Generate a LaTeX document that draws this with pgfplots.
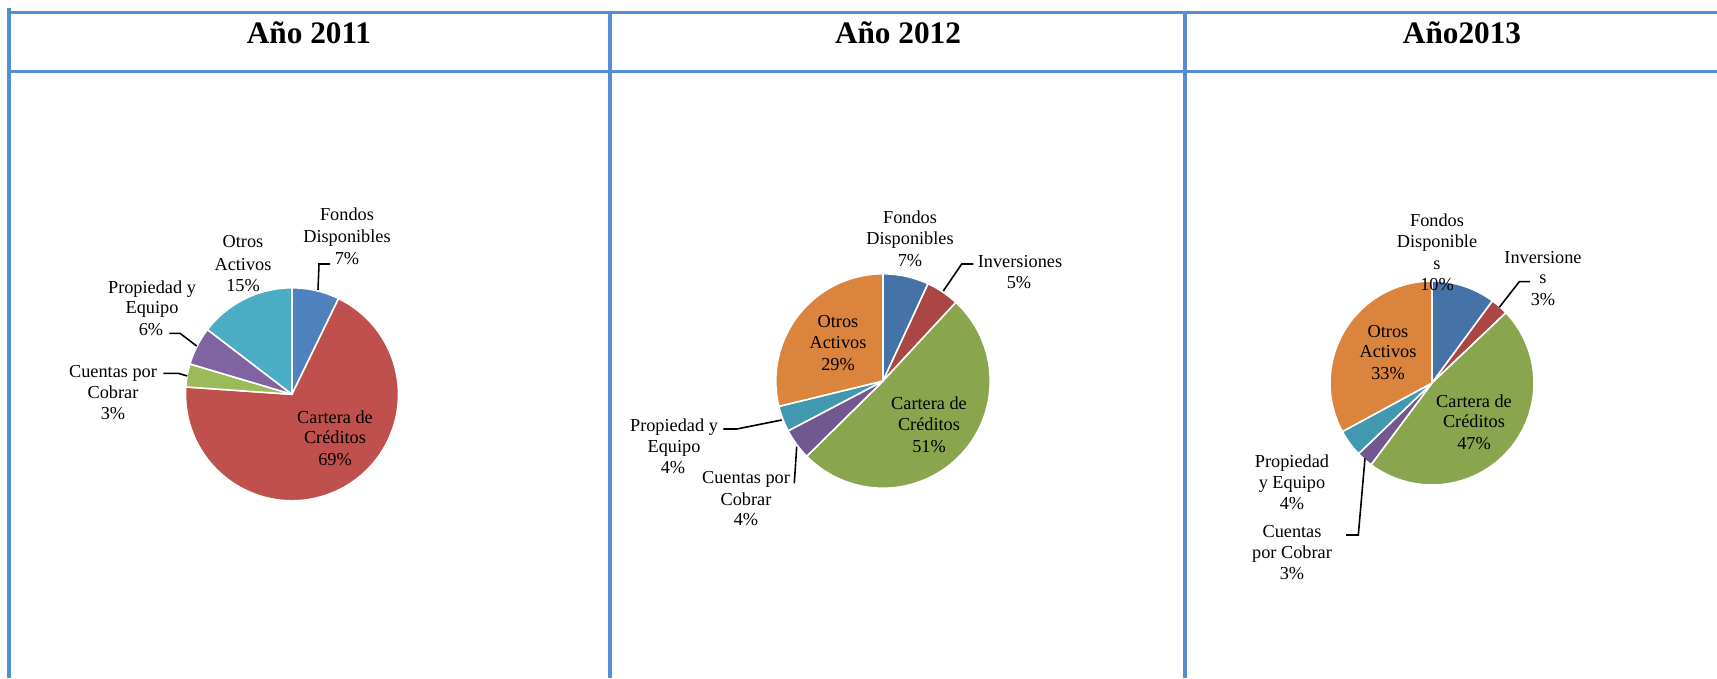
\documentclass[border=0pt]{standalone}
\usepackage{pgfplots}
\pgfplotsset{compat=1.18}
\usepackage{fontspec}
\setmainfont{Liberation Serif}
\definecolor{tbl}{RGB}{85,142,213}
% 2011 palette
\definecolor{aB}{RGB}{79,129,189}
\definecolor{aR}{RGB}{192,80,77}
\definecolor{aG}{RGB}{155,187,89}
\definecolor{aP}{RGB}{128,100,162}
\definecolor{aA}{RGB}{75,172,198}
% 2012/2013 palette
\definecolor{bB}{RGB}{69,114,167}
\definecolor{bR}{RGB}{170,70,67}
\definecolor{bG}{RGB}{137,165,78}
\definecolor{bP}{RGB}{113,88,143}
\definecolor{bA}{RGB}{65,152,175}
\definecolor{bO}{RGB}{219,132,61}
% pie: center x, center y (axis units), radius, list value/colour
\newcommand{\pie}[4]{%
  \xdef\pieacc{0}%
  \foreach \pv/\pc in {#4}{%
    \pgfmathsetmacro\pstart{90-3.6*\pieacc}%
    \pgfmathsetmacro\pend{90-3.6*(\pieacc+\pv)}%
    \edef\pietmp{\noexpand\fill[\pc, draw=white, line width=0.45pt, line join=round]
      (axis cs:#1,#2) -- ++(\pstart:#3) arc[start angle=\pstart, end angle=\pend, radius=#3] -- cycle;}%
    \pietmp
    \pgfmathsetmacro\pnext{\pieacc+\pv}%
    \xdef\pieacc{\pnext}%
  }%
}
\newcommand{\lb}[3]{\node[anchor=base, inner sep=0pt, font=\fontsize{5.2}{6.1}\selectfont] at (axis cs:#1,#2) {#3};}
\newcommand{\hd}[2]{\node[anchor=base, inner sep=0pt, font=\fontsize{8.9}{10}\selectfont\bfseries] at (axis cs:#1,44) {#2};}
\begin{document}
\begin{tikzpicture}
\begin{axis}[name=ax, width=17.17cm, height=6.78cm, scale only axis,
  xmin=0, xmax=1717, ymin=0, ymax=678, y dir=reverse, hide axis, clip=false]
% table grid
\draw[tbl, line width=1pt] (axis cs:9,12.3) -- (axis cs:1717,12.3);
\draw[tbl, line width=1pt] (axis cs:9,71.7) -- (axis cs:1717,71.7);
\draw[tbl, line width=1pt] (axis cs:9,8) -- (axis cs:9,678);
\draw[tbl, line width=1pt] (axis cs:610,12.3) -- (axis cs:610,678);
\draw[tbl, line width=1pt] (axis cs:1185,12.3) -- (axis cs:1185,678);
% headers
\hd{309}{Año 2011}
\hd{898}{Año 2012}
\hd{1462}{Año2013}
% pies
\pie{292}{394.3}{1.065cm}{7.2/aB, 68.9/aR, 3.5/aG, 5.8/aP, 14.6/aA}
\pie{883}{381}{1.072cm}{6.9/bB, 5.0/bR, 50.7/bG, 4.7/bP, 3.9/bA, 28.8/bO}
\pie{1432}{383}{1.02cm}{10.1/bB, 2.8/bR, 47.3/bG, 2.6/bP, 4.3/bA, 32.9/bO}
% leader lines
\draw[black, line width=0.45pt] (axis cs:330,264) -- (axis cs:319,264) -- (axis cs:318,290);
\draw[black, line width=0.45pt] (axis cs:169.3,333.3) -- (axis cs:180,333.3) -- (axis cs:196.7,346);
\draw[black, line width=0.45pt] (axis cs:163.3,373.3) -- (axis cs:178.3,373.3) -- (axis cs:187.3,376);
\draw[black, line width=0.45pt] (axis cs:973.3,264) -- (axis cs:961.7,264) -- (axis cs:943.3,291);
\draw[black, line width=0.45pt] (axis cs:723.3,429) -- (axis cs:736.7,429) -- (axis cs:781.7,420);
\draw[black, line width=0.45pt] (axis cs:794.3,483.3) -- (axis cs:796.7,446.7);
\draw[black, line width=0.45pt] (axis cs:1530,281.7) -- (axis cs:1519.3,281.7) -- (axis cs:1499.3,307.3);
\draw[black, line width=0.45pt] (axis cs:1346,535) -- (axis cs:1358.3,535) -- (axis cs:1365,458.3);
% labels 2011
\lb{347}{220.7}{Fondos}\lb{347}{242.7}{Disponibles}\lb{347}{264}{7\%}
\lb{243}{247.7}{Otros}\lb{243}{270}{Activos}\lb{243}{291}{15\%}
\lb{152}{293}{Propiedad y}\lb{152}{313}{Equipo}\lb{151}{335.7}{6\%}
\lb{113}{377}{Cuentas por}\lb{113}{398}{Cobrar}\lb{113}{419}{3\%}
\lb{335}{423}{Cartera de}\lb{335}{443}{Créditos}\lb{335}{465}{69\%}
% labels 2012
\lb{910}{223}{Fondos}\lb{910}{244}{Disponibles}\lb{910}{266}{7\%}
\lb{1020}{267}{Inversiones}\lb{1019}{288}{5\%}
\lb{838}{327}{Otros}\lb{838}{348}{Activos}\lb{838}{370}{29\%}
\lb{929}{409}{Cartera de}\lb{929}{430}{Créditos}\lb{929}{452}{51\%}
\lb{674}{431}{Propiedad y}\lb{674}{452}{Equipo}\lb{673}{473}{4\%}
\lb{746}{483}{Cuentas por}\lb{746}{505}{Cobrar}\lb{746}{525}{4\%}
% labels 2013
\lb{1437}{226.7}{Fondos}\lb{1437}{247}{Disponible}\lb{1437}{269}{s}\lb{1437}{290}{10\%}
\lb{1543}{263}{Inversione}\lb{1543}{283}{s}\lb{1543}{305}{3\%}
\lb{1388}{337}{Otros}\lb{1388}{357}{Activos}\lb{1388}{379}{33\%}
\lb{1474}{407}{Cartera de}\lb{1474}{427}{Créditos}\lb{1474}{449}{47\%}
\lb{1292}{467}{Propiedad}\lb{1292}{488}{y Equipo}\lb{1292}{509}{4\%}
\lb{1292}{537}{Cuentas}\lb{1292}{558}{por Cobrar}\lb{1292}{579}{3\%}
\end{axis}
\pgfresetboundingbox
\path (ax.south west) rectangle (ax.north east);
\end{tikzpicture}
\end{document}
